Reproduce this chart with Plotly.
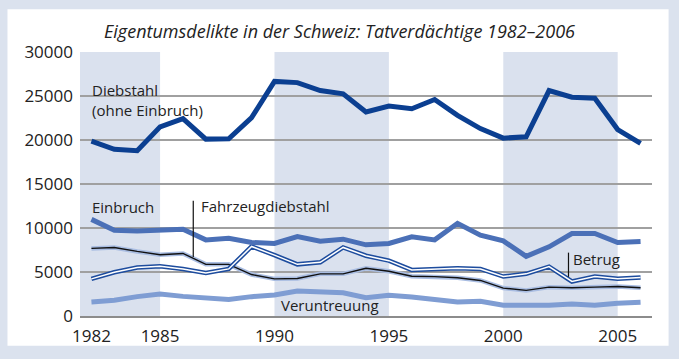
import plotly.graph_objects as go

years = list(range(1982, 2007))

diebstahl = [19870, 18940, 18780, 21490, 22430, 20100, 20130, 22540, 26660, 26520,
             25620, 25240, 23180, 23850, 23550, 24600, 22800, 21300, 20210, 20360,
             25620, 24860, 24750, 21190, 19610]
einbruch = [10980, 9740, 9660, 9780, 9850, 8650, 8840, 8350, 8240, 9030,
            8500, 8730, 8090, 8240, 8990, 8650, 10530, 9180, 8540, 6780,
            7860, 9370, 9370, 8350, 8470]
fahrzeug = [7680, 7790, 7340, 6960, 7110, 5870, 5870, 4710, 4220, 4260,
            4790, 4790, 5430, 5090, 4520, 4480, 4340, 4040, 3170, 2910,
            3280, 3210, 3280, 3360, 3210]
betrug = [4220, 4970, 5500, 5650, 5350, 4900, 5350, 7900, 6920, 5870,
          6100, 7790, 6850, 6290, 5240, 5350, 5430, 5350, 4480, 4790,
          5610, 3920, 4480, 4220, 4370]
veruntreuung = [1600, 1780, 2200, 2500, 2230, 2050, 1890, 2200, 2390, 2840,
                2680, 2640, 2080, 2350, 2160, 1890, 1600, 1670, 1220, 1220,
                1220, 1370, 1220, 1440, 1550]

x_ticks = [1982, 1985, 1990, 1995, 2000, 2005]
y_ticks = [0, 5000, 10000, 15000, 20000, 25000, 30000]
y_labels = ["0", "5000", "10000", "15000", "20000", "25000", "30000"]
bands = [(1981.5, 1985), (1990, 1995), (2000, 2005)]

title = "Eigentumsdelikte in der Schweiz: Tatverdächtige 1982–2006"
FONT = "Open Sans"
TXT = "#222222"
BG = "#dbe2ee"
BAND = "#dae1ee"

fig = go.Figure()

def line(y, color, width):
    fig.add_trace(go.Scatter(x=years, y=y, mode="lines", hoverinfo="skip",
                             line=dict(color=color, width=width), showlegend=False))

line(veruntreuung, "#7f9dd3", 5)
line(fahrzeug, "#a9bde2", 4.5)
line(fahrzeug, "#111111", 1.4)
line(betrug, "#1d4c9e", 4.5)
line(betrug, "#ffffff", 1.5)
line(einbruch, "#4b70b7", 5)
line(diebstahl, "#0b3f91", 5)

shapes = [dict(type="rect", xref="paper", yref="paper", x0=-0.1268, x1=1.029,
               y0=-0.113, y1=1.162, fillcolor="white", line=dict(width=0), layer="below")]
for a, b in bands:
    shapes.append(dict(type="rect", xref="x", yref="y", x0=a, x1=b, y0=0, y1=30000,
                       fillcolor=BAND, line=dict(width=0), layer="below"))
# pointer lines
shapes.append(dict(type="line", xref="x", yref="y", x0=1986.45, x1=1986.45,
                   y0=6700, y1=13100, line=dict(color="#111", width=1.2)))
shapes.append(dict(type="line", xref="x", yref="y", x0=2002.85, x1=2002.85,
                   y0=4450, y1=7200, line=dict(color="#111", width=1.2)))

fig.update_layout(shapes=shapes)

ann_font = dict(family=FONT, size=15, color=TXT)
anns = [
    dict(x=1981.95, y=24500, text="Diebstahl<br>(ohne Einbruch)", align="left"),
    dict(x=1981.95, y=12400, text="Einbruch", align="left"),
    dict(x=1986.7, y=12500, text="Fahrzeugdiebstahl", align="left"),
    dict(x=2002.95, y=6500, text="Betrug", align="left"),
    dict(x=1990.2, y=1250, text="Veruntreuung", align="left"),
]
for a in anns:
    fig.add_annotation(xref="x", yref="y", xanchor="left", yanchor="middle",
                       showarrow=False, font=ann_font, **a)

fig.update_layout(
    width=679, height=359,
    margin=dict(l=80, r=27, t=52, b=41),
    paper_bgcolor=BG, plot_bgcolor="rgba(0,0,0,0)",
    title=dict(text="<i>" + title + "</i>", x=0.5, xanchor="center", y=0.911,
               yanchor="middle", font=dict(family=FONT, size=18, color=TXT)),
    font=dict(family=FONT, color=TXT),
    xaxis=dict(range=[1981.5, 2006.5], tickvals=x_ticks, showgrid=False,
               showline=True, linecolor="#8c8c8c", linewidth=2, ticks="",
               zeroline=False, tickfont=dict(family=FONT, size=17, color=TXT),
               ticklabelstandoff=4, fixedrange=True),
    yaxis=dict(range=[0, 30000], tickvals=y_ticks, ticktext=y_labels, showgrid=True,
               gridcolor="#a0a0a0", gridwidth=1.5, zeroline=False, ticks="",
               showline=False, ticklabelstandoff=6,
               tickfont=dict(family=FONT, size=17, color=TXT), fixedrange=True),
)

fig.write_html("out.html", config={"displayModeBar": False},
               post_script="document.body.style.margin='0px';document.body.style.overflow='hidden';")
